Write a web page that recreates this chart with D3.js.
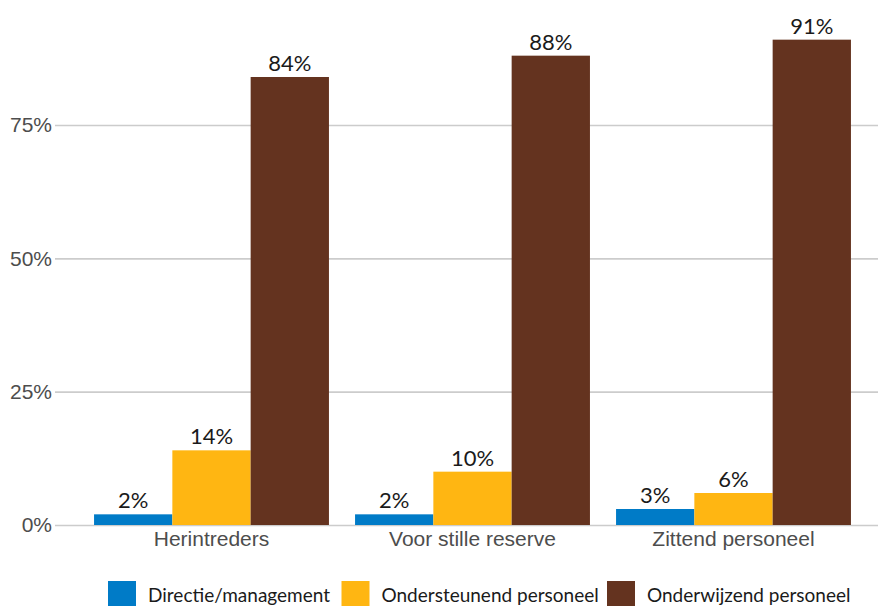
<!DOCTYPE html>
<html>
<head>
<meta charset="utf-8">
<script src="https://cdn.jsdelivr.net/npm/d3@7"></script>
<style>
  html, body { margin: 0; padding: 0; background: #fff; }
  svg { display: block; font-family: Lato, "Open Sans", sans-serif; }
</style>
</head>
<body>
<svg id="chart" width="878" height="606"></svg>
<script>
const categories = ["Herintreders", "Voor stille reserve", "Zittend personeel"];
const seriesNames = ["Directie/management", "Ondersteunend personeel", "Onderwijzend personeel"];
const directie = [2, 2, 3];
const ondersteunend = [14, 10, 6];
const onderwijzend = [84, 88, 91];
const yTicks = [0, 25, 50, 75];
const colors = ["#007bc7", "#ffb612", "#64331f"];

const seriesValues = [directie, ondersteunend, onderwijzend];
const data = categories.map((c, i) => ({
  category: c,
  values: seriesNames.map((s, j) => ({ series: s, value: seriesValues[j][i] }))
}));

const svg = d3.select("#chart");

const x = d3.scaleBand().domain(categories).range([81, 864]).paddingInner(0).paddingOuter(0);
const xInner = d3.scaleBand().domain(seriesNames)
  .range([x.bandwidth() * 0.05, x.bandwidth() * 0.95]).padding(0);
const y = d3.scaleLinear().domain([0, 75]).range([525, 125]);
const color = d3.scaleOrdinal().domain(seriesNames).range(colors);

// gridlines
const yAxis = d3.axisLeft(y).tickValues(yTicks).tickFormat(d => d + "%").tickSize(-(878 - 55)).tickPadding(3);
const gy = svg.append("g").attr("transform", "translate(55,0)").call(yAxis);
gy.select(".domain").remove();
gy.selectAll(".tick line").attr("stroke", "#cccccc").attr("stroke-width", 1.6);
gy.selectAll(".tick text").attr("fill", "#4d4d4d").style("font-size", "21px");

// bars
const groups = svg.append("g").selectAll("g").data(data).join("g")
  .attr("transform", d => `translate(${x(d.category)},0)`);
groups.selectAll("rect").data(d => d.values).join("rect")
  .attr("x", d => xInner(d.series))
  .attr("width", xInner.bandwidth())
  .attr("y", d => y(d.value))
  .attr("height", d => y(0) - y(d.value))
  .attr("fill", d => color(d.series));
groups.selectAll("text").data(d => d.values).join("text")
  .attr("x", d => xInner(d.series) + xInner.bandwidth() / 2)
  .attr("y", d => y(d.value) - 6)
  .attr("text-anchor", "middle")
  .attr("fill", "#1a1a1a")
  .style("font-size", "22px")
  .text(d => d.value + "%");

// x axis
const xAxis = d3.axisBottom(x).tickSize(0).tickPadding(5);
const gx = svg.append("g").attr("transform", "translate(0,525)").call(xAxis);
gx.select(".domain").remove();
gx.selectAll(".tick text").attr("fill", "#4d4d4d").style("font-size", "21px").attr("dy", "0.75em");

// legend
const legendX = [108, 341.5, 607];
const legend = svg.append("g").selectAll("g").data(seriesNames).join("g")
  .attr("transform", (d, i) => `translate(${legendX[i]},581)`);
legend.append("rect").attr("width", 28).attr("height", 28).attr("fill", d => color(d));
legend.append("text").attr("x", 40).attr("y", 21)
  .attr("fill", "#1a1a1a").style("font-size", "19px").text(d => d);
</script>
</body>
</html>
